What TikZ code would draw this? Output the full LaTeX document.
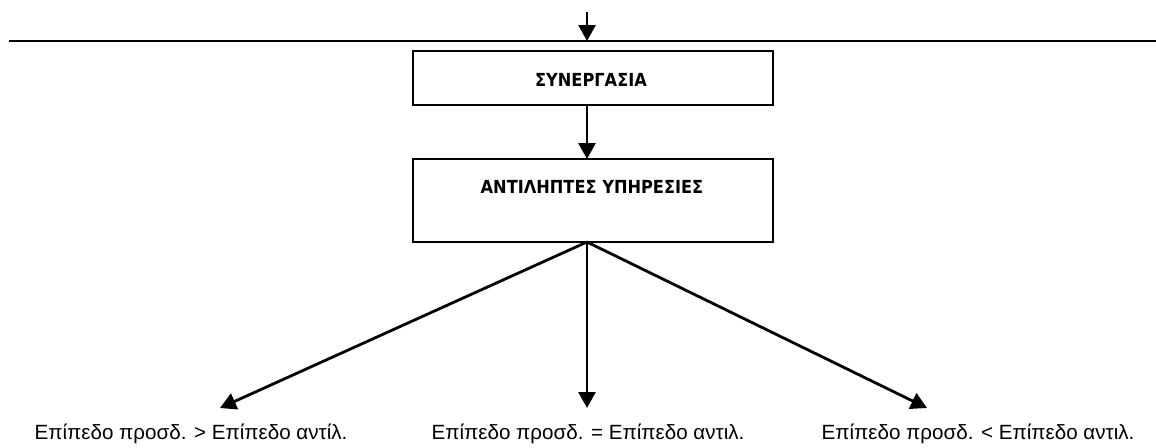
\documentclass[tikz,border=0pt]{standalone}
\usepackage{fontspec}
\setmainfont{Liberation Sans}
\newfontfamily\boxfont{DejaVu Sans Condensed}
\usetikzlibrary{arrows.meta}
\begin{document}
\begin{tikzpicture}[x=1pt,y=-1pt,
  flowbox/.style={draw, line width=1.8pt, minimum width=360pt, inner sep=0pt},
  arr/.style={line width=2.8pt, -{Triangle[width=17pt,length=16pt]}},
  btxt/.style={font=\boxfont\bfseries\fontsize{18}{20}\selectfont, inner sep=0pt},
  lbl/.style={font=\fontsize{20.6}{23}\selectfont, inner sep=0pt, anchor=base}]
\useasboundingbox (0,0) rectangle (1156,447);
\coordinate (L) at (9,41);
\coordinate (R) at (1156,41);
\draw[line width=1.8pt] (L) -- (R);
\coordinate (top) at (587,12);
\coordinate (topend) at (587,41);
\draw[arr] (top) -- (topend);
\node[flowbox, minimum height=54pt] (b1) at (593,78) {};
\node[btxt] (t1) at (591,80) {ΣΥΝΕΡΓΑΣΙΑ};
\node[flowbox, minimum height=83pt] (b2) at (593,200.5) {};
\node[btxt] (t2) at (592,187) {ΑΝΤΙΛΗΠΤΕΣ ΥΠΗΡΕΣΙΕΣ};
\coordinate (b1s) at (587,105);
\coordinate (b2n) at (587,159);
\draw[arr] (b1s) -- (b2n);
\coordinate (b2s) at (587,242);
\coordinate (eL) at (220,408);
\coordinate (eM) at (587,408);
\coordinate (eR) at (927,408);
\draw[arr] (b2s) -- (eL);
\draw[arr] (b2s) -- (eM);
\draw[arr] (b2s) -- (eR);
\node[lbl] (l1) at (191,439) {Επίπεδο προσδ. > Επίπεδο αντίλ.};
\node[lbl] (l2) at (588,439) {Επίπεδο προσδ. = Επίπεδο αντιλ.};
\node[lbl] (l3) at (978,439) {Επίπεδο προσδ. < Επίπεδο αντιλ.};
\end{tikzpicture}
\end{document}
